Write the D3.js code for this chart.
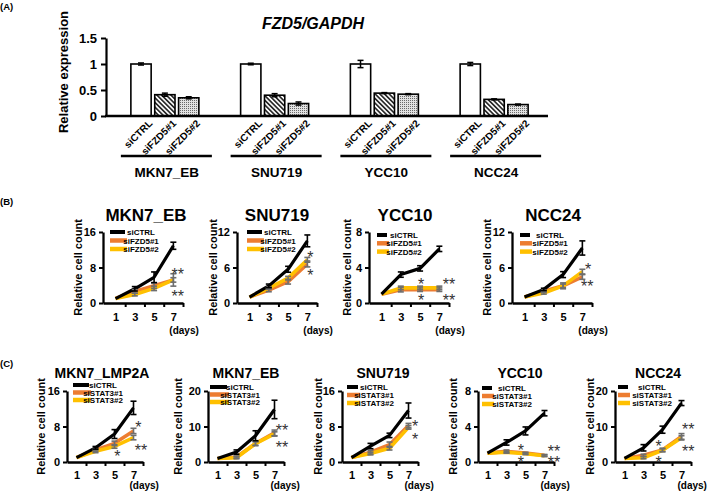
<!DOCTYPE html>
<html><head><meta charset="utf-8">
<script src="https://cdn.jsdelivr.net/npm/d3@7"></script>
<style>
body{margin:0;background:#fff}
svg{display:block}
text{font-family:Arial,"Liberation Sans",Helvetica,sans-serif}
</style>
</head><body>
<script>
// ---------------- DATA ----------------
// Panel A
const barGroups = ["MKN7_EB","SNU719","YCC10","NCC24"];
const barConds = ["siCTRL","siFZD5#1","siFZD5#2"];
const barValues = [[1.0,0.41,0.35],[1.0,0.40,0.24],[1.0,0.44,0.42],[1.0,0.32,0.22]];
const barErrors = [[0.02,0.03,0.02],[0.015,0.03,0.03],[0.07,0.01,0.01],[0.03,0.01,0.01]];
const barTicks = [0,0.5,1,1.5];
const barTickLabels = ["0","0.5","1","1.5"];

const days = [1,3,5,7];
const fzdNames = ["siCTRL","siFZD5#1","siFZD5#2"];
const statNames = ["siCTRL","siSTAT3#1","siSTAT3#2"];

// Panel B (siFZD5)
const B_MKN7EB_values = [[1,3.2,5.8,12.9],[1,2.6,3.9,5.2],[1,1.9,3.3,5.2]];
const B_MKN7EB_errors = [[0.1,0.5,1.2,0.8],[0.1,0.4,0.6,1.4],[0.1,0.3,0.5,0.5]];
const B_SNU719_values = [[1,2.9,5.7,10.5],[1,2.2,3.6,6.6],[1,2.5,4.2,7.3]];
const B_SNU719_errors = [[0.05,0.3,0.5,1.0],[0.05,0.3,0.4,0.5],[0.05,0.2,0.3,0.4]];
const B_YCC10_values = [[1,3.2,3.9,6.1],[1,1.5,1.5,1.5],[1,1.7,1.7,1.7]];
const B_YCC10_errors = [[0.05,0.3,0.3,0.3],[0.05,0.25,0.2,0.2],[0.05,0.2,0.2,0.2]];
const B_NCC24_values = [[1,2.3,4.8,9.3],[1,2.0,2.9,4.4],[1,1.7,2.9,5.3]];
const B_NCC24_errors = [[0.05,0.2,0.5,1.2],[0.05,0.2,0.5,0.4],[0.05,0.2,0.3,0.4]];

// Panel C (siSTAT3)
const C_LMP2A_values = [[1,3.2,6.3,12.2],[1,2.7,4.2,7.0],[1,2.4,3.5,5.5]];
const C_LMP2A_errors = [[0.1,0.3,1.0,1.5],[0.1,0.3,0.5,0.6],[0.1,0.3,0.4,0.5]];
const C_MKN7EB_values = [[1,2.8,7.4,14.8],[1,1.4,5.2,8.2],[1,1.2,5.2,7.9]];
const C_MKN7EB_errors = [[0.1,0.6,1.4,2.6],[0.1,0.3,0.6,0.8],[0.1,0.3,0.5,0.6]];
const C_SNU719_values = [[1,3.6,6.0,11.6],[1,2.2,3.9,8.2],[1,1.9,3.1,7.8]];
const C_SNU719_errors = [[0.05,0.6,0.5,1.7],[0.05,0.4,0.6,0.5],[0.05,0.3,0.4,0.4]];
const C_YCC10_values = [[1,2.2,3.5,5.5],[1,1.2,1.0,0.75],[1,1.1,0.93,0.7]];
const C_YCC10_errors = [[0.05,0.3,0.45,0.3],[0.05,0.15,0.1,0.1],[0.05,0.1,0.1,0.1]];
const C_NCC24_values = [[1,4.0,9.1,16.6],[1,1.9,3.4,7.2],[1,1.2,3.3,6.8]];
const C_NCC24_errors = [[0.1,0.9,1.0,0.7],[0.1,0.3,0.5,0.8],[0.1,0.3,0.4,0.6]];

// significance annotations: [day position, value, text]
const B_MKN7EB_stars = [[7.45,7.4,"**"],[7.45,2.4,"**"]];
const B_SNU719_stars = [[7.3,8.4,"*"],[7.3,5.4,"*"]];
const B_YCC10_stars = [[5.1,2.6,"*"],[5.1,0.8,"*"],[8.0,2.6,"**"],[8.0,0.7,"**"]];
const B_NCC24_stars = [[7.6,6.4,"*"],[7.5,3.4,"**"]];
const C_LMP2A_stars = [[7.5,8.8,"*"],[5.3,2.2,"*"],[7.8,3.6,"**"]];
const C_MKN7EB_stars = [[7.8,10.1,"**"],[7.8,5.1,"**"]];
const C_SNU719_stars = [[7.7,9.0,"*"],[7.7,6.1,"*"]];
const C_YCC10_stars = [[4.5,1.8,"*"],[4.5,0.45,"*"],[8.0,1.7,"**"],[8.0,0.35,"**"]];
const C_NCC24_stars = [[4.6,5.6,"*"],[4.6,1.1,"*"],[7.7,10.4,"**"],[7.7,4.2,"**"]];

// ---------------- DRAW ----------------
const W = 709, H = 494;
const svg = d3.select("body").append("svg").attr("width", W).attr("height", H);
const seriesColors = ["#000000","#ED7D31","#FFC000"];
const errColors = ["#000000","#6e6e6e","#6e6e6e"];

const defs = svg.append("defs");
const p1 = defs.append("pattern").attr("id","hatch").attr("patternUnits","userSpaceOnUse")
  .attr("width",3.3).attr("height",3.3).attr("patternTransform","rotate(-45)");
p1.append("rect").attr("width",3.3).attr("height",3.3).attr("fill","#fff");
p1.append("rect").attr("x",0).attr("y",0).attr("width",1.7).attr("height",3.3).attr("fill","#2a2a2a");
const p2 = defs.append("pattern").attr("id","dots").attr("patternUnits","userSpaceOnUse")
  .attr("width",2).attr("height",2);
p2.append("rect").attr("width",2).attr("height",2).attr("fill","#e2e2e2");
p2.append("rect").attr("width",1).attr("height",1).attr("fill","#6a6a6a");
const barFills = ["#ffffff","url(#hatch)","url(#dots)"];

// Panel labels
[["(A)",10],["(B)",205],["(C)",367]].forEach(([t,yy]) =>
  svg.append("text").attr("x",0).attr("y",yy).attr("font-size",9.5).attr("font-weight","bold").text(t));

// ---- Panel A ----
(function(){
  const g = svg.append("g");
  const y = d3.scaleLinear().domain([0,1.5]).range([116,38]);
  const gx = d3.scaleBand().domain(barGroups).range([110,549]);
  const bx = d3.scaleBand().domain(barConds).range([-34,34]).paddingInner(0.15);
  const ya = g.append("g").attr("transform","translate(106,0)")
    .call(d3.axisLeft(y).tickValues(barTicks).tickFormat((d,i)=>barTickLabels[i]).tickSizeInner(5).tickSizeOuter(0).tickPadding(4));
  ya.select(".domain").attr("stroke-width",2.2);
  ya.selectAll(".tick line").attr("stroke-width",2);
  ya.selectAll("text").attr("font-size",13).attr("font-weight","bold").attr("fill","#000");

  barGroups.forEach((grp,gi)=>{
    const cx = gx(grp) + gx.bandwidth()/2;
    barConds.forEach((c,ci)=>{
      const x0 = cx + bx(c);
      const v = barValues[gi][ci], e = barErrors[gi][ci];
      g.append("rect").attr("x",x0).attr("y",y(v)).attr("width",bx.bandwidth()).attr("height",y(0)-y(v))
        .attr("fill",barFills[ci]).attr("stroke","#000").attr("stroke-width",1.6);
      const mx = x0 + bx.bandwidth()/2;
      g.append("line").attr("x1",mx).attr("x2",mx).attr("y1",y(v-e)).attr("y2",y(v+e)).attr("stroke","#000").attr("stroke-width",1.5);
      [v-e,v+e].forEach(t=>g.append("line").attr("x1",mx-3).attr("x2",mx+3).attr("y1",y(t)).attr("y2",y(t)).attr("stroke","#000").attr("stroke-width",1.5));
      g.append("text").attr("transform",`translate(${mx+12},124) rotate(-45)`).attr("text-anchor","end")
        .attr("font-size",10).attr("font-weight","bold").text(c);
    });
    g.append("line").attr("x1",cx-44).attr("x2",cx+47).attr("y1",156).attr("y2",156).attr("stroke","#000").attr("stroke-width",2.3);
    g.append("text").attr("x",cx+2).attr("y",177).attr("text-anchor","middle").attr("font-size",13.5).attr("font-weight","bold").text(grp);
  });
  g.append("line").attr("x1",105).attr("x2",548).attr("y1",y(0)).attr("y2",y(0)).attr("stroke","#000").attr("stroke-width",2.5);
  g.append("text").attr("transform","translate(68,72) rotate(-90)").attr("text-anchor","middle")
    .attr("font-size",13).attr("font-weight","bold").text("Relative expression");
  g.append("text").attr("x",313).attr("y",29).attr("text-anchor","middle").attr("font-size",16)
    .attr("font-weight","bold").attr("font-style","italic").text("FZD5/GAPDH");
})();

// ---- line charts ----
function lineChart(cfg){
  const g = svg.append("g");
  const x = d3.scaleLinear().domain(cfg.xdom).range([cfg.ax, cfg.ax + cfg.xlen]);
  const y = d3.scaleLinear().domain([0,cfg.ymax]).range([cfg.bottom, cfg.top]);

  g.append("text").attr("x",cfg.titleX).attr("y",cfg.titleY).attr("text-anchor","middle")
    .attr("font-size",cfg.titleSize).attr("font-weight","bold").text(cfg.title);
  g.append("text").attr("transform",`translate(${cfg.ylabX},${(cfg.top+cfg.bottom)/2}) rotate(-90)`)
    .attr("text-anchor","middle").attr("font-size",11).attr("font-weight","bold").text("Relative cell count");

  const line = d3.line().x((d,i)=>x(days[i])).y(d=>y(d));
  [1,2,0].forEach(si=>{
    g.append("path").datum(cfg.values[si]).attr("d",line).attr("fill","none")
      .attr("stroke",seriesColors[si]).attr("stroke-width",si===0?3.2:3.6).attr("stroke-linejoin","round");
  });
  [1,2,0].forEach(si=>{
    cfg.values[si].forEach((v,i)=>{
      const e = cfg.errors[si][i], mx = x(days[i]);
      if (i===0) return;
      g.append("line").attr("x1",mx).attr("x2",mx).attr("y1",y(v-e)).attr("y2",y(v+e)).attr("stroke",errColors[si]).attr("stroke-width",1.6);
      [v-e,v+e].forEach(t=>g.append("line").attr("x1",mx-3).attr("x2",mx+3).attr("y1",y(t)).attr("y2",y(t)).attr("stroke",errColors[si]).attr("stroke-width",1.6));
    });
  });

  const ya = g.append("g").attr("transform",`translate(${cfg.ax},0)`)
    .call(d3.axisLeft(y).tickValues(cfg.yticks).tickFormat(d3.format("d")).tickSizeInner(4).tickSizeOuter(0).tickPadding(3));
  const xa = g.append("g").attr("transform",`translate(0,${cfg.bottom})`)
    .call(d3.axisBottom(x).tickValues([2,4,6,8]).tickFormat("").tickSizeInner(4).tickSizeOuter(0));
  const xl = g.append("g").attr("transform",`translate(0,${cfg.bottom})`)
    .call(d3.axisBottom(x).tickValues(days).tickFormat(d3.format("d")).tickSize(0).tickPadding(cfg.xlabPad));
  xl.select(".domain").remove();
  [ya,xa].forEach(a=>{a.select(".domain").attr("stroke-width",2.3); a.selectAll(".tick line").attr("stroke-width",2);});
  [ya,xl].forEach(a=>a.selectAll("text").attr("font-size",11).attr("font-weight","bold").attr("fill","#000"));

  g.append("text").attr("x",x(7)-4).attr("y",cfg.daysY).attr("font-size",10).attr("font-weight","bold").text("(days)");

  const L = cfg.legend;
  cfg.names.forEach((n,i)=>{
    const yy = L.y + i*L.dy;
    g.append("line").attr("x1",cfg.ax+L.s0).attr("x2",cfg.ax+L.s1+(i?2:0)).attr("y1",yy).attr("y2",yy)
      .attr("stroke",seriesColors[i]).attr("stroke-width",i?4.5:4);
    g.append("text").attr("x",cfg.ax+L.t).attr("y",yy+3).attr("text-anchor","middle")
      .attr("font-size",8).attr("font-weight","bold").text(n);
  });

  cfg.stars.forEach(s=>{
    g.append("text").attr("x",x(s[0])).attr("y",y(s[1])).attr("dy","0.6em").attr("text-anchor","middle")
      .attr("font-size",16).attr("fill","#333").text(s[2]);
  });
}

const Bbase = {top:232,bottom:303,xdom:[-0.3,8],xlen:80,titleY:221,titleSize:17,xlabPad:10,daysY:334,names:fzdNames};
const Cbase = {top:391,bottom:462,xdom:[0,8],xlen:76,titleY:378,titleSize:14,xlabPad:9,daysY:489,names:statNames};

[
 {ax:103,title:"MKN7_EB",titleX:146,ylabX:82,ymax:16,yticks:[0,8,16],values:B_MKN7EB_values,errors:B_MKN7EB_errors,stars:B_MKN7EB_stars,legend:{s0:7,s1:22,t:38,y:232,dy:8.5}},
 {ax:237,title:"SNU719",titleX:277,ylabX:217,ymax:12,yticks:[0,6,12],values:B_SNU719_values,errors:B_SNU719_errors,stars:B_SNU719_stars,legend:{s0:10,s1:25,t:41,y:232,dy:8.5}},
 {ax:369,title:"YCC10",titleX:405,ylabX:351,ymax:8,yticks:[0,4,8],values:B_YCC10_values,errors:B_YCC10_errors,stars:B_YCC10_stars,legend:{s0:8,s1:18,t:35,y:235,dy:8.3}},
 {ax:512,title:"NCC24",titleX:553,ylabX:491,ymax:12,yticks:[0,6,12],values:B_NCC24_values,errors:B_NCC24_errors,stars:B_NCC24_stars,legend:{s0:8,s1:18,t:38,y:235,dy:8.3}}
].forEach(c=>lineChart(Object.assign({},Bbase,c)));

[
 {ax:67,title:"MKN7_LMP2A",titleX:102,ylabX:45,ymax:16,yticks:[0,8,16],values:C_LMP2A_values,errors:C_LMP2A_errors,stars:C_LMP2A_stars,legend:{s0:6,s1:22,t:36,y:385,dy:7.5}},
 {ax:208,title:"MKN7_EB",titleX:246,ylabX:182,ymax:20,yticks:[0,10,20],values:C_MKN7EB_values,errors:C_MKN7EB_errors,stars:C_MKN7EB_stars,legend:{s0:2,s1:19,t:32,y:387,dy:7.5}},
 {ax:342,title:"SNU719",titleX:383,ylabX:322,ymax:16,yticks:[0,8,16],values:C_SNU719_values,errors:C_SNU719_errors,stars:C_SNU719_stars,legend:{s0:5,s1:16,t:32,y:387,dy:8}},
 {ax:478,title:"YCC10",titleX:520,ylabX:457,ymax:8,yticks:[0,4,8],values:C_YCC10_values,errors:C_YCC10_errors,stars:C_YCC10_stars,legend:{s0:4,s1:14,t:34,y:388,dy:8}},
 {ax:615,title:"NCC24",titleX:658,ylabX:594,ymax:20,yticks:[0,10,20],values:C_NCC24_values,errors:C_NCC24_errors,stars:C_NCC24_stars,legend:{s0:3,s1:13,t:37,y:387,dy:8}}
].forEach(c=>lineChart(Object.assign({},Cbase,c)));
</script>
</body></html>
